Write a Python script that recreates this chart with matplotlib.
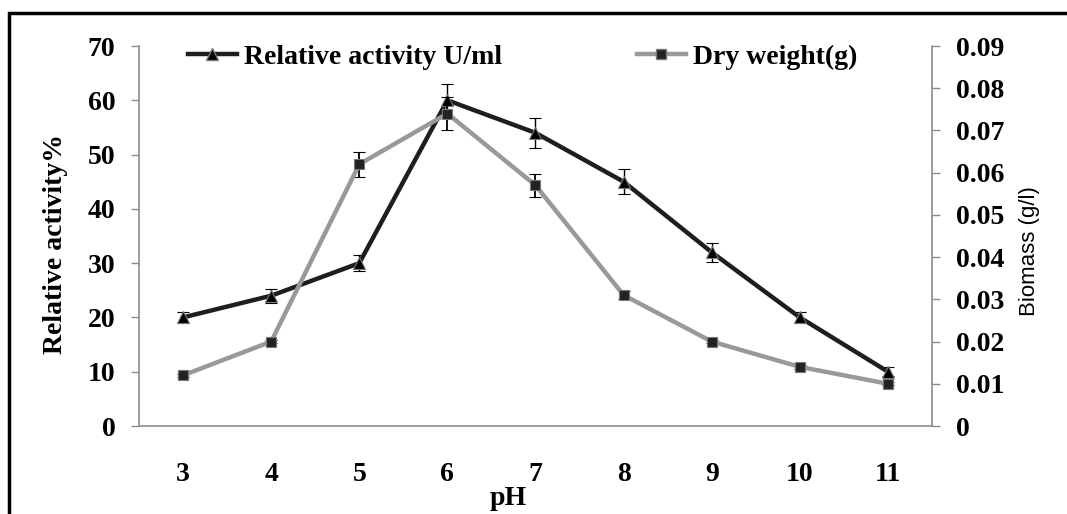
import matplotlib
matplotlib.use('Agg')
import matplotlib.pyplot as plt
from matplotlib.patches import Rectangle
from matplotlib.lines import Line2D

plt.rcParams['font.family'] = ['Liberation Serif', 'DejaVu Serif']
plt.rcParams['font.weight'] = 'bold'

# data
ph = [3, 4, 5, 6, 7, 8, 9, 10, 11]
activity = [20, 24, 30, 60, 54, 45, 32, 20, 10]
activity_err = [1.0, 1.3, 1.5, 3.0, 2.7, 2.3, 1.7, 1.0, 0.8]
dry_weight = [0.012, 0.020, 0.062, 0.074, 0.057, 0.031, 0.020, 0.014, 0.010]
dry_err = [0.0004, 0.0004, 0.0030, 0.0040, 0.0027, 0.0010, 0.0004, 0.0004, 0.0004]

left_ticks = [0, 10, 20, 30, 40, 50, 60, 70]
right_ticks = [0, 0.01, 0.02, 0.03, 0.04, 0.05, 0.06, 0.07, 0.08, 0.09]
right_labels = ['0', '0.01', '0.02', '0.03', '0.04', '0.05', '0.06', '0.07', '0.08', '0.09']

dark = '#1e1e1e'
gray = '#999999'
axis_gray = '#8c8c8c'
fs = 20

fig = plt.figure(figsize=(10.67, 5.14), dpi=100)
ax = fig.add_axes([139 / 1067, 1 - 426 / 514, (932 - 139) / 1067, 380 / 514])
ax2 = ax.twinx()

ax.errorbar(ph, activity, yerr=activity_err, color=dark, lw=3.2, marker='^',
            ms=8, mfc='black', mec='#777777', mew=0.8,
            ecolor='black', elinewidth=1, capsize=4, capthick=1, zorder=3)
ax2.errorbar(ph, dry_weight, yerr=dry_err, color=gray, lw=3.2, marker='s',
             ms=7, mfc='#222222', mec='#777777', mew=0.8,
             ecolor='black', elinewidth=1.3, capsize=4, capthick=1.3, zorder=3)

ax.set_xlim(2.5, 11.5)
ax.set_ylim(0, 70)
ax2.set_ylim(0, 0.09)
ax.set_xticks(ph)
ax.set_xticklabels([str(p) for p in ph])
ax.set_yticks(left_ticks)
ax2.set_yticks(right_ticks)
ax2.set_yticklabels(right_labels)

for a in (ax, ax2):
    a.spines['top'].set_visible(False)
    for s in ('left', 'right', 'bottom'):
        a.spines[s].set_color(axis_gray)
        a.spines[s].set_linewidth(1.2)
ax.spines['right'].set_visible(False)
ax2.spines['left'].set_visible(False)
ax2.spines['bottom'].set_visible(False)

ax.tick_params(axis='x', length=0, pad=26, labelsize=fs)
ax.tick_params(axis='y', length=6, width=1, color=axis_gray, pad=11, labelsize=fs)
ax2.tick_params(axis='y', length=6, width=1, color=axis_gray, pad=11, labelsize=fs)

ax.set_ylabel('Relative activity%', fontsize=fs, fontweight='bold')
ax.yaxis.set_label_coords(-0.09, 0.48)
ax2.set_ylabel('Biomass (g/l)', fontsize=16, fontweight='normal',
               family=['Liberation Sans', 'DejaVu Sans'])
ax2.yaxis.set_label_coords(1.11, 0.46)

fig.text(508 / 1067, 1 - 505 / 514, 'pH', ha='center', va='baseline',
         fontsize=fs, fontweight='bold')

h1 = Line2D([], [], color=dark, lw=3.2, marker='^', ms=8, mfc='black', mec='#777777')
h2 = Line2D([], [], color=gray, lw=3.2, marker='s', ms=7, mfc='#222222', mec='#777777')
ax.legend([h1], ['Relative activity U/ml'], loc='center left',
          bbox_to_anchor=(188 / 1067, 1 - 57 / 514), bbox_transform=fig.transFigure,
          frameon=False, fontsize=fs, handlelength=1.75, handletextpad=0.25,
          borderpad=0, borderaxespad=0)
ax2.legend([h2], ['Dry weight(g)'], loc='center left',
           bbox_to_anchor=(637 / 1067, 1 - 57 / 514), bbox_transform=fig.transFigure,
           frameon=False, fontsize=fs, handlelength=1.75, handletextpad=0.25,
           borderpad=0, borderaxespad=0)

fig.patches.append(Rectangle((9 / 1067, -0.05), 1.2, 1 - 13 / 514 + 0.05,
                             transform=fig.transFigure, fill=False,
                             edgecolor='black', lw=2.5))

fig.savefig('out.png', dpi=100)
